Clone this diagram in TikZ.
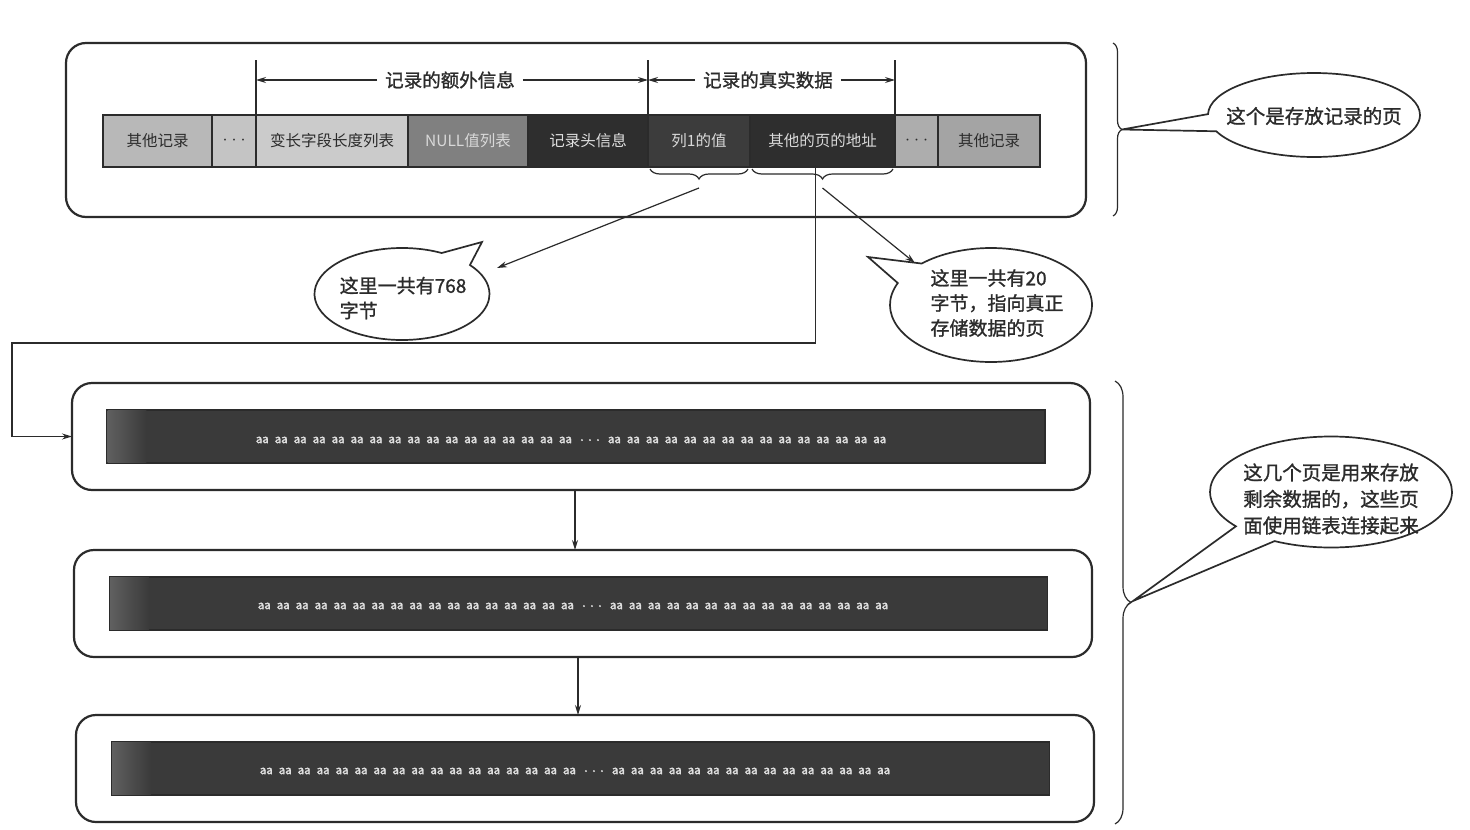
\documentclass[tikz,border=0pt]{standalone}
\usepackage{fontspec}
\setmainfont{Noto Sans CJK SC}
\newfontfamily\cjkb[FakeBold=1.2]{Noto Sans CJK SC}
\newfontfamily\cjkbb[FakeBold=2.5]{Noto Sans CJK SC}
\usetikzlibrary{arrows.meta,shapes.callouts,decorations.pathreplacing,calc}

\definecolor{ink}{HTML}{2B2B2B}
\definecolor{bardark}{HTML}{3A3A3A}
\definecolor{lightA}{HTML}{B8B8B8}
\definecolor{lightB}{HTML}{C4C4C4}
\definecolor{lightC}{HTML}{CBCBCB}
\definecolor{midg}{HTML}{808080}
\definecolor{darkA}{HTML}{2E2E2E}
\definecolor{darkB}{HTML}{3C3C3C}
\definecolor{lightD}{HTML}{ADADAD}

% one row of bytes inside an overflow page
\newcommand\bytepair{aa\hspace{6pt}}
\newcommand\bytesrow{%
\bytepair\bytepair\bytepair\bytepair\bytepair\bytepair\bytepair\bytepair\bytepair
\bytepair\bytepair\bytepair\bytepair\bytepair\bytepair\bytepair\bytepair
{\fontsize{8}{10}\selectfont···}\hspace{6pt}%
\bytepair\bytepair\bytepair\bytepair\bytepair\bytepair\bytepair\bytepair
\bytepair\bytepair\bytepair\bytepair\bytepair\bytepair aa}

\begin{document}
\begin{tikzpicture}[x=1pt,y=-1pt,
  frame/.style={draw=ink,line width=2.2pt,rounded corners=20pt,inner sep=0pt,outer sep=0pt},
  cell/.style={draw=ink,line width=1.4pt,minimum height=52pt,inner sep=0pt,outer sep=0pt,anchor=west,
    font=\fontsize{15.5}{18}\selectfont},
  dots/.style={font=\fontsize{9}{10}\selectfont},
  bar/.style={draw=ink,line width=1.2pt,fill=bardark,minimum width=938pt,minimum height=53pt,inner sep=0pt},
  bytes/.style={font=\cjkbb\fontsize{11.5}{12}\selectfont,text=white!88!black,inner sep=0pt},
  dimlabel/.style={font=\cjkb\fontsize{18.5}{22}\selectfont,text=ink,fill=white,inner xsep=8pt,inner ysep=2pt},
  tick/.style={draw=ink,line width=1.2pt},
  link/.style={draw=ink,line width=1.2pt,-{Stealth[length=10pt,width=6pt]}},
  curly/.style={draw=ink,line width=1.2pt,decorate,decoration={brace,amplitude=#1}},
  bubble/.style={ellipse callout,draw=ink,line width=1.7pt,fill=white,callout pointer arc=24,inner sep=0pt},
  say/.style={font=\cjkb\fontsize{19}{25}\selectfont,align=left,inner sep=0pt,text=ink}
]
\useasboundingbox (0,0) rectangle (1470,830);
\fill[white] (0,0) rectangle (1470,830);

% ---- the page holding the record ----
\node[frame,minimum width=1020pt,minimum height=174pt] (page1) at (576,130) {};

\node[cell,minimum width=109pt,fill=lightA,text=ink] (r0) at (103,141) {其他记录};
\node[cell,dots,minimum width=44pt,fill=lightB,text=ink] (r1) at (r0.east) {···};
\node[cell,minimum width=152pt,fill=lightC,text=ink] (r2) at (r1.east) {变长字段长度列表};
\node[cell,minimum width=120pt,fill=midg,text=white!85!black] (r3) at (r2.east) {NULL值列表};
\node[cell,minimum width=120pt,fill=darkA,text=white!88!black] (r4) at (r3.east) {记录头信息};
\node[cell,minimum width=102pt,fill=darkB,text=white!85!black] (r5) at (r4.east) {列1的值};
\node[cell,minimum width=145pt,fill=darkA,text=white!85!black] (r6) at (r5.east) {其他的页的地址};
\node[cell,dots,minimum width=43pt,fill=lightD,text=ink] (r7) at (r6.east) {···};
\node[cell,minimum width=102pt,fill=lightD!95!black,text=ink] (r8) at (r7.east) {其他记录};

% extent markers above the record
\coordinate (t1) at ($(r2.north west)+(0,-55)$);
\coordinate (t2) at ($(r5.north west)+(0,-55)$);
\coordinate (t3) at ($(r6.north east)+(0,-55)$);
\draw[tick] (r2.north west) -- (t1);
\draw[tick] (r5.north west) -- (t2);
\draw[tick] (r6.north east) -- (t3);

\node[dimlabel] (extra) at (450,80) {记录的额外信息};
\node[dimlabel] (real) at (768,80) {记录的真实数据};
\draw[link] (extra.west) -- (extra.west -| t1);
\draw[link] (extra.east) -- (extra.east -| t2);
\draw[link] (real.west) -- (real.west -| t2);
\draw[link] (real.east) -- (real.east -| t3);

% braces under the real data
\draw[curly=10pt] ($(r5.south east)+(-2,2)$) -- ($(r5.south west)+(2,2)$);
\draw[curly=10pt] ($(r6.south east)+(-2,2)$) -- ($(r6.south west)+(2,2)$);
\coordinate (tipA) at ($(r5.south)+(0,21)$);
\coordinate (tipB) at ($(r6.south)+(0,21)$);

% brace for the whole record page
\draw[curly=9pt] (1113,43) -- (1113,216);
\coordinate (bt1) at (1122,129.5);

% ---- callouts ----
\node[bubble,minimum width=175pt,minimum height=92pt,callout absolute pointer={(482,242)}] (c1) at (402,294) {};
\node[say] (c1t) at (403,298) {这里一共有768\\字节};
\draw[link] (tipA) -- (497,268);

\node[bubble,minimum width=202pt,minimum height=114pt,callout absolute pointer={(868,257)}] (c2) at (991,305) {};
\node[say] (c2t) at (997,303) {这里一共有20\\字节，指向真正\\存储数据的页};
\draw[link] (tipB) -- (915,263);

\node[bubble,minimum width=212pt,minimum height=84pt,callout absolute pointer={(bt1)}] (c3) at (1314,115) {};
\node[say,font=\cjkb\fontsize{19.5}{25}\selectfont] (c3t) at (1314,116) {这个是存放记录的页};

% ---- overflow pages ----
\node[frame,minimum width=1018pt,minimum height=107pt] (page2) at (581,436.5) {};
\node[frame,minimum width=1018pt,minimum height=107pt] (page3) at (583,603.5) {};
\node[frame,minimum width=1018pt,minimum height=107pt] (page4) at (585,768.5) {};

\node[bar] (bar2) at (576,436.5) {};
\node[bar] (bar3) at (578.5,603.5) {};
\node[bar] (bar4) at (580.5,768.5) {};
\foreach \b in {bar2,bar3,bar4}{
  \fill[left color=gray!75!black,right color=bardark]
    ($(\b.north west)+(1.2,1.2)$) rectangle ($(\b.south west)+(40,-1.2)$);
}
\node[bytes] (b2t) at (571,440) {\bytesrow};
\node[bytes] (b3t) at (573,606) {\bytesrow};
\node[bytes] (b4t) at (575,771) {\bytesrow};

% pointer from the record to the first overflow page
\coordinate (drop) at ($(r6.south)+(-7,-2)$);
\coordinate (turn) at (drop |- 0,343);
\draw[link] (drop) -- (turn) -- (12,343) |- (page2.west);

% chain of overflow pages
\coordinate (s2) at ($(page2.south)+(-6,0)$);
\coordinate (s3) at ($(page3.south)+(-5,0)$);
\draw[link] (s2) -- (s2 |- page3.north);
\draw[link] (s3) -- (s3 |- page4.north);

% brace for the overflow pages
\draw[curly=16pt] (1115,381) -- (1115,824);
\coordinate (bt2) at (1133,601);

\node[bubble,minimum width=242pt,minimum height=111pt,callout absolute pointer={(bt2)}] (c4) at (1331,492) {};
\node[say,align=center,font=\cjkb\fontsize{19.5}{26.5}\selectfont] (c4t) at (1331,499) {这几个页是用来存放\\剩余数据的，这些页\\面使用链表连接起来};
\end{tikzpicture}
\end{document}
